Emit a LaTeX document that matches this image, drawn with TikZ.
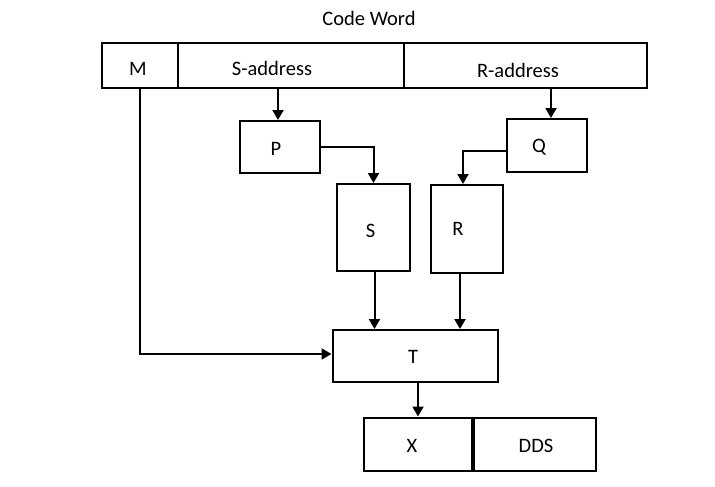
\documentclass[tikz,border=0pt]{standalone}
\usepackage{fontspec}
\setmainfont{Carlito}
\usetikzlibrary{arrows.meta}
\tikzset{
  box/.style={draw, line width=2pt, inner sep=0pt, minimum width=#1},
  box/.default=80pt,
  conn/.style={line width=2pt, -{Triangle[length=10pt,width=11pt]}},
  plain/.style={line width=2pt},
  txt/.style={inner sep=0pt, font=\fontsize{20.5}{24}\selectfont},
}
\begin{document}
\begin{tikzpicture}[x=1pt,y=-1pt]
\useasboundingbox (0,0) rectangle (715,487);
% code word bar
\node[box=76pt, minimum height=45pt] (Mcell) at (140,65.5) {};
\node[box=226pt, minimum height=45pt] (Scell) at (291,65.5) {};
\node[box=243pt, minimum height=45pt] (Rcell) at (525.5,65.5) {};
\node[txt] (cw) at (369,18) {Code Word};
\node[txt] (Mt) at (138,69) {M};
\node[txt] (St) at (272,68) {S-address};
\node[txt] (Rt) at (518,70) {R-address};
% boxes
\node[box=80pt, minimum height=52pt, label={[txt,xshift=-4pt,yshift=-2pt]center:P}] (P) at (280,147) {};
\node[box=80pt, minimum height=53pt, label={[txt,xshift=-8pt,yshift=-2pt]center:Q}] (Q) at (547,145.5) {};
\node[box=73pt, minimum height=87pt, label={[txt,xshift=-3pt,yshift=-3pt]center:S}] (S) at (373.5,227.5) {};
\node[box=72pt, minimum height=88pt, label={[txt,xshift=-9pt]center:R}] (R) at (467,229) {};
\node[box=165pt, minimum height=52pt, label={[txt,xshift=-2pt,yshift=-1pt]center:T}] (T) at (415,356) {};
\node[box=108pt, minimum height=53pt, label={[txt,xshift=-6pt,yshift=-2pt]center:X}] (X) at (418,444) {};
\node[box=122pt, minimum height=53pt, label={[txt,xshift=1pt,yshift=-2pt]center:DDS}] (DDS) at (535,444) {};
% connectors
\draw[conn] ([xshift=-2pt]P.north |- Scell.south) -- ([xshift=-2pt]P.north);
\draw[conn] ([xshift=4pt]Q.north |- Rcell.south) -- ([xshift=4pt]Q.north);
\draw[conn] (P.east) -| (S.north);
\draw[conn] ([yshift=-5pt]Q.west) -| ([xshift=-4pt]R.north);
\draw[conn] ([xshift=1pt]S.south) -- ([xshift=1pt]S.south |- T.north);
\draw[conn] ([xshift=-7pt]R.south) -- ([xshift=-7pt]R.south |- T.north);
\draw[conn] (Mcell.south) |- ([yshift=2pt]T.west);
\draw[conn] (X.north |- T.south) -- (X.north);
\end{tikzpicture}
\end{document}
